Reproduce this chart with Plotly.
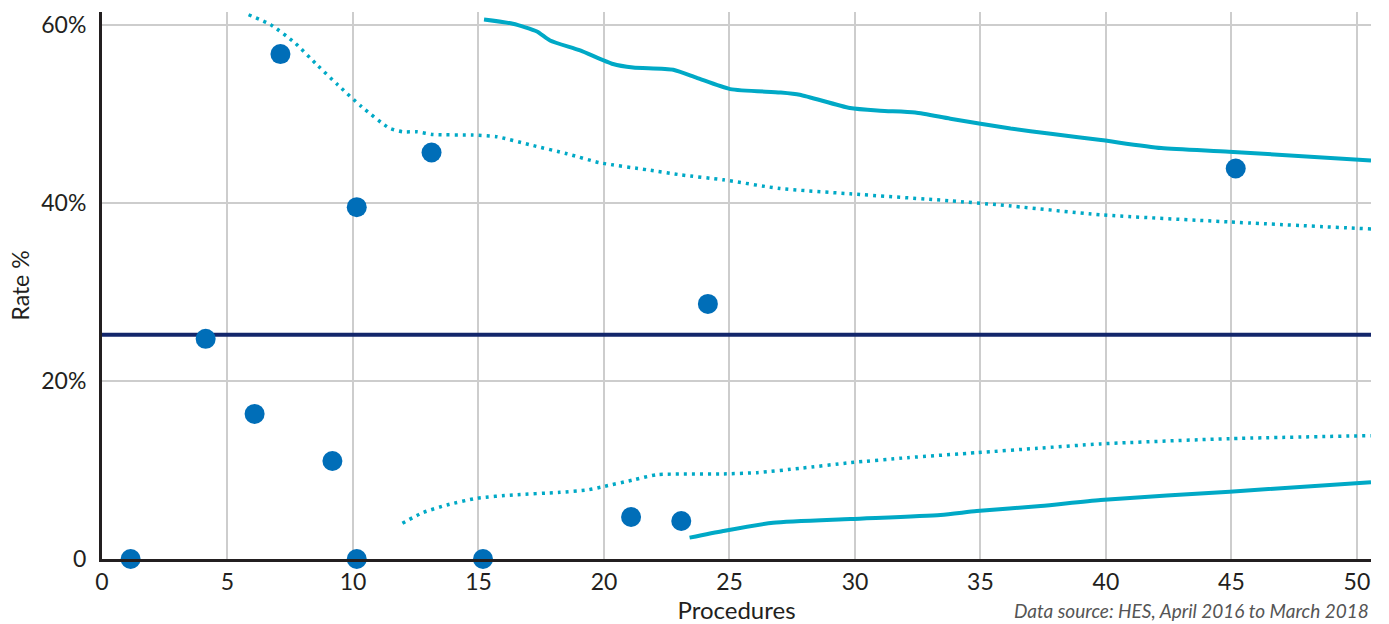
import plotly.graph_objects as go

# Provider results: procedures performed vs. rate (%)
procedures = [1.14, 4.13, 6.08, 7.11, 9.18, 10.15, 10.15, 13.13, 15.18, 21.08, 23.08, 24.14, 45.17]
rates = [0.0, 24.75, 16.31, 56.77, 11.02, 39.56, 0.0, 45.7, 0.0, 4.72, 4.27, 28.68, 43.9]

# National benchmark rate
benchmark_rate = 25.2
benchmark_x = [0, 50.56]

# Upper 99.8% control limit (solid)
upper998_x = [15.22, 16.37, 17.33, 17.85, 19.05, 20.36, 21.16, 22.76, 23.72, 25.03, 27.02, 27.8,
              29.8, 31.0, 32.4, 33.8, 36.2, 37.8, 39.8, 42.2, 44.9, 50.56]
upper998_y = [60.66, 60.18, 59.31, 58.30, 57.18, 55.65, 55.26, 55.01, 54.07, 52.83, 52.45, 52.2,
              50.7, 50.4, 50.2, 49.5, 48.4, 47.8, 47.1, 46.2, 45.8, 44.8]

# Upper 95% control limit (dotted)
upper95_x = [5.84, 6.72, 7.68, 8.60, 9.39, 10.35, 11.43, 11.98, 12.55, 13.18, 14.78, 15.74, 17.05,
             18.53, 19.84, 21.72, 23.04, 24.75, 27.02, 29.8, 33.8, 35.8, 39.8, 44.9, 50.56]
upper95_y = [61.19, 60.07, 58.04, 55.46, 53.32, 50.84, 48.48, 48.03, 48.03, 47.73, 47.66, 47.47, 46.57,
             45.56, 44.55, 43.76, 43.20, 42.63, 41.65, 41.06, 40.27, 39.8, 38.7, 37.9, 37.1]

# Lower 95% control limit (dotted)
lower95_x = [11.97, 12.78, 13.74, 14.94, 16.37, 18.25, 19.33, 19.96, 21.16, 22.12, 24.63, 26.11,
             27.82, 29.82, 32.09, 34.88, 37.28, 39.79, 44.93, 50.56]
lower95_y = [4.02, 5.21, 6.07, 6.83, 7.20, 7.50, 7.76, 8.13, 8.89, 9.48, 9.56, 9.71,
             10.20, 10.83, 11.39, 11.96, 12.45, 12.94, 13.53, 13.87]

# Lower 99.8% control limit (solid)
lower998_x = [23.41, 24.75, 26.74, 29.82, 33.41, 34.85, 37.40, 39.79, 44.93, 50.56]
lower998_y = [2.40, 3.15, 4.08, 4.50, 4.95, 5.40, 5.96, 6.64, 7.57, 8.63]

x_ticks = [0, 5, 10, 15, 20, 25, 30, 35, 40, 45, 50]
y_ticks = [0, 20, 40, 60]
y_tick_labels = ["0", "20%", "40%", "60%"]

LIMIT = "#00a9c6"
POINT = "#006eb8"
NAVY = "#13266b"
INK = "#231f20"
FONT = "Lato, 'Open Sans', sans-serif"

fig = go.Figure()

for xs, ys, dash in [
    (upper998_x, upper998_y, "solid"),
    (upper95_x, upper95_y, "3px,5px"),
    (lower95_x, lower95_y, "3px,5px"),
    (lower998_x, lower998_y, "solid"),
]:
    fig.add_trace(go.Scatter(
        x=xs, y=ys, mode="lines",
        line=dict(color=LIMIT, width=4 if dash == "solid" else 3.5, dash=dash,
                  shape="spline", smoothing=0.6),
        hoverinfo="skip", showlegend=False,
    ))

fig.add_trace(go.Scatter(
    x=benchmark_x, y=[benchmark_rate, benchmark_rate], mode="lines",
    line=dict(color=NAVY, width=4), hoverinfo="skip", showlegend=False,
))

fig.add_trace(go.Scatter(
    x=procedures, y=rates, mode="markers",
    marker=dict(color=POINT, size=20, line=dict(width=0)),
    cliponaxis=False, showlegend=False,
))

fig.update_layout(
    width=1389, height=624,
    margin=dict(l=102, r=18, t=12, b=65),
    paper_bgcolor="white", plot_bgcolor="white",
    font=dict(family=FONT, color=INK),
    xaxis=dict(
        range=[0, 50.56], tickvals=x_ticks, ticks="", ticklabelstandoff=0,
        tickfont=dict(size=23, color=INK), automargin=False,
        showgrid=True, gridcolor="#cdcdcd", gridwidth=1.5, zeroline=False,
        showline=True, linecolor=INK, linewidth=3,
        title=dict(text="Procedures", font=dict(size=24, color=INK), standoff=0),
    ),
    yaxis=dict(
        range=[0, 61.5], tickvals=y_ticks, ticktext=y_tick_labels, ticks="",
        ticklabelstandoff=8, tickfont=dict(size=23, color=INK), automargin=False,
        showgrid=True, gridcolor="#cdcdcd", gridwidth=1.5, zeroline=False,
        showline=True, linecolor=INK, linewidth=3,
        title=dict(text="Rate %", font=dict(size=23, color=INK), standoff=6),
    ),
    annotations=[dict(
        text="<i>Data source: HES, April 2016 to March 2018</i>",
        xref="paper", yref="paper", x=1.0, y=-0.095,
        xanchor="right", yanchor="middle", showarrow=False,
        font=dict(size=19, color="#555555", family=FONT),
    )],
)

fig.write_html("out.html")
